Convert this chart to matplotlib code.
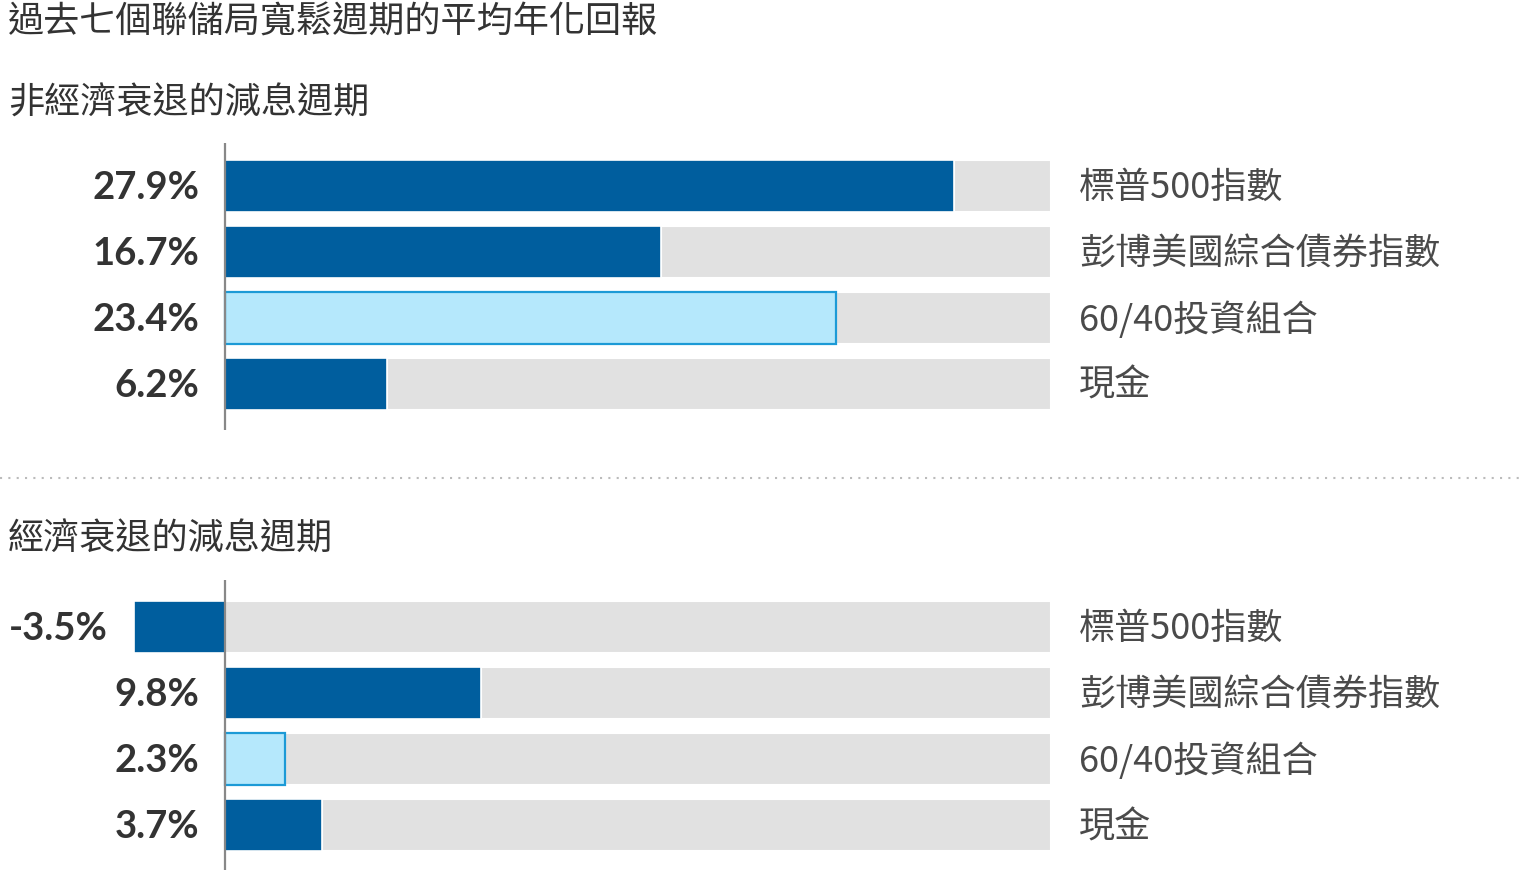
import matplotlib
matplotlib.use("Agg")
import matplotlib.pyplot as plt
from matplotlib.lines import Line2D

# ---- data ----
title = "過去七個聯儲局寬鬆週期的平均年化回報"
panel_titles = ["非經濟衰退的減息週期", "經濟衰退的減息週期"]
categories = ["標普500指數", "彭博美國綜合債券指數", "60/40投資組合", "現金"]
non_recession = [27.9, 16.7, 23.4, 6.2]
recession = [-3.5, 9.8, 2.3, 3.7]
bg_max = 31.6

DARK = "#005e9e"
LIGHT = "#b5e8fc"
LIGHT_EDGE = "#1c9ad6"
GRAY = "#e1e1e1"
TXT = "#333333"
CAT = "#4a4a4a"

CJK = ["Noto Sans CJK TC", "DejaVu Sans"]
NUM = ["Lato", "DejaVu Sans"]

W, H = 1534, 881
fig = plt.figure(figsize=(W / 100, H / 100), dpi=100)

px_per = (954 - 225) / 27.9
xl = (-225 / px_per, (W - 225) / px_per)

def make_ax(top_px, bot_px, ylim, values):
    ax = fig.add_axes([0, 1 - bot_px / H, 1, (bot_px - top_px) / H])
    ax.set_xlim(*xl)
    ax.set_ylim(*ylim)
    ax.axis("off")
    ys = list(range(len(values)))
    bh = 0.79
    # background bars
    starts = [max(v, 0) for v in values]
    ax.barh(ys, [bg_max - s for s in starts], left=starts, height=bh,
            color=GRAY, edgecolor="white", linewidth=1.5, zorder=1)
    for i, v in enumerate(values):
        if i == 2:
            ax.barh(i, v, height=bh * 0.985, color=LIGHT, edgecolor=LIGHT_EDGE,
                    linewidth=1.6, zorder=2)
        else:
            ax.barh(i, v, height=bh, color=DARK, edgecolor="white",
                    linewidth=1.2, zorder=2)
        ax.annotate(f"{v:.1f}%", xy=(min(v, 0), i), xytext=(-18.5, -1.5),
                    textcoords="offset points", ha="right", va="center",
                    fontsize=27.5, fontweight="bold", color=TXT, family=NUM)
        ax.annotate(categories[i], xy=((1079 - 225) / px_per, i), xytext=(0, -1.5),
                    textcoords="offset points", ha="left", va="center",
                    fontsize=26, color=CAT, family=CJK)
    ax.axvline(0, color="#888888", linewidth=1.6, zorder=3)
    return ax

make_ax(143, 430, (3.70, -0.65), non_recession)
make_ax(580, 870, (3.68, -0.71), recession)

fig.text(8 / W, 1 - 23 / H, title, ha="left", va="center", fontsize=26,
         color=TXT, family=CJK, fontweight=500)
fig.text(8 / W, 1 - 104 / H, panel_titles[0], ha="left", va="center",
         fontsize=26, color=TXT, family=CJK)
fig.text(8 / W, 1 - 540 / H, panel_titles[1], ha="left", va="center",
         fontsize=26, color=TXT, family=CJK)

fig.add_artist(Line2D([0, 1525 / W], [1 - 478 / H, 1 - 478 / H],
                      transform=fig.transFigure, color="#bbbbbb",
                      linewidth=1.5, linestyle=(0, (1, 3))))

fig.savefig("out.png", dpi=100, facecolor="white")
